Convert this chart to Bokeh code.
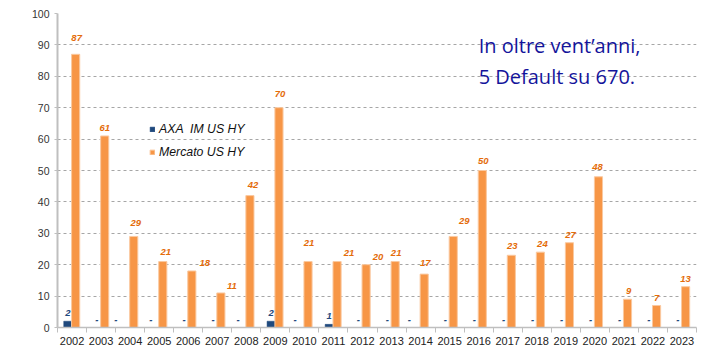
from bokeh.plotting import figure
from bokeh.models import ColumnDataSource, FixedTicker, Legend, LegendItem, Label, Range1d
from bokeh.core.properties import value
from bokeh.embed import file_html
from bokeh.resources import INLINE

# ---- data ----
years = list(range(2002, 2024))
axa_defaults = [2, 0, 0, 0, 0, 0, 0, 2, 0, 1, 0, 0, 0, 0, 0, 0, 0, 0, 0, 0, 0, 0]
market_defaults = [87, 61, 29, 21, 18, 11, 42, 70, 21, 21, 20, 21, 17, 29, 50, 23, 24, 27, 48, 9, 7, 13]
series_names = ["AXA  IM US HY", "Mercato US HY"]
note_lines = ["In oltre vent\u2019anni,", "5 Default su 670."]

# hand-placed label nudges of the original (pixels)
market_label_dx = [1, 0, 2, 3, 13, 11, 3, 1, 1, 12, 12, 1, 1, 11, 1, 1, 2, 1, -1, 1, 0, 0]
market_label_dy = [16, 8, 13, 10, 8, 7, 11, 14, 19, 9, 8, 9, 11, 15, 10, 9, 8, 8, 10, 8, 8, 8]
axa_label_dx = [0, 0, -10, -4, 0, 0, -4, 0, -5, 0, 0, 0, -7, 0, 0, 0, 0, 0, 0, 0, 0, 0]

NAVY = "#1F497D"
ORANGE = "#F79646"
ORANGE_TXT = "#E46C0A"
AXIS = "#BFBFBF"

BW = 0.28
AXA_OFF = -0.145
MKT_OFF = 0.125

src = ColumnDataSource(dict(
    x_axa=[y + AXA_OFF for y in years],
    x_mkt=[y + MKT_OFF for y in years],
    axa=axa_defaults,
    mkt=market_defaults,
    axa_lbl=[str(v) if v > 0 else "-" for v in axa_defaults],
    mkt_lbl=[str(v) for v in market_defaults],
    axa_dx=axa_label_dx,
    axa_dy=[-8] * len(years),
    mkt_dx=market_label_dx,
    mkt_dy=[-d for d in market_label_dy],
))

p = figure(width=710, height=347, output_backend="svg", toolbar_location=None,
           x_range=Range1d(years[0] - 0.5, years[-1] + 0.5), y_range=Range1d(0, 100),
           min_border_left=57, min_border_right=14, min_border_top=13, min_border_bottom=19)
p.outline_line_color = None
p.background_fill_color = "white"

r_axa = p.vbar(x="x_axa", top="axa", width=BW, bottom=0, source=src,
               fill_color=NAVY, line_color=NAVY, line_width=0.5)
r_mkt = p.vbar(x="x_mkt", top="mkt", width=BW, bottom=0, source=src,
               fill_color=ORANGE, line_color="#FAC9A0", line_width=1)

p.text(x="x_axa", y="axa", text="axa_lbl", source=src, x_offset="axa_dx", y_offset="axa_dy",
       text_font=value("Liberation Sans"), text_font_style="bold italic", text_font_size="9.5px",
       text_color=NAVY, text_align="center", text_baseline="middle")
p.text(x="x_mkt", y="mkt", text="mkt_lbl", source=src, x_offset="mkt_dx", y_offset="mkt_dy",
       text_font=value("Liberation Sans"), text_font_style="bold italic", text_font_size="9.5px",
       text_color=ORANGE_TXT, text_align="center", text_baseline="middle")

# axes
xa = p.xaxis[0]
xa.ticker = FixedTicker(ticks=years, minor_ticks=[y - 0.5 for y in years] + [years[-1] + 0.5])
xa.major_label_overrides = {y: str(y) for y in years}
xa.major_tick_out = 0
xa.major_tick_in = 0
xa.minor_tick_out = 5
xa.minor_tick_in = 0
xa.minor_tick_line_color = AXIS
xa.axis_line_color = AXIS
xa.axis_line_width = 1.5
xa.major_label_standoff = 4
xa.major_label_text_font = "Liberation Sans"
xa.major_label_text_font_size = "11px"
xa.major_label_text_color = "#222222"

ya = p.yaxis[0]
ya.ticker = FixedTicker(ticks=list(range(0, 101, 10)), minor_ticks=[])
ya.major_tick_out = 3
ya.major_tick_in = 0
ya.major_tick_line_color = AXIS
ya.axis_line_color = AXIS
ya.axis_line_width = 2
ya.major_label_standoff = 5
ya.major_label_text_font = "Liberation Sans"
ya.major_label_text_font_size = "10.5px"
ya.major_label_text_color = "#333333"

p.xgrid.grid_line_color = None
p.ygrid.grid_line_color = "#A6A6A6"
p.ygrid.grid_line_dash = "3 3"
p.ygrid.grid_line_width = 1

legend = Legend(items=[LegendItem(label=series_names[0], renderers=[r_axa]),
                       LegendItem(label=series_names[1], renderers=[r_mkt])],
                location=(92, 165), padding=0, margin=0, spacing=3,
                glyph_width=6, glyph_height=6, label_standoff=4, label_height=20,
                border_line_color=None, background_fill_alpha=0,
                label_text_font="Liberation Sans", label_text_font_style="italic",
                label_text_font_size="12.3px", label_text_color="#111111")
p.add_layout(legend)

p.add_layout(Label(x=2016.0, y=89.8, text=note_lines[0], text_font="Open Sans",
                   text_font_size="20px", text_color="#14149B", text_baseline="middle"))
p.add_layout(Label(x=2016.0, y=80.0, text=note_lines[1], text_font="Open Sans",
                   text_font_size="20px", text_color="#14149B", text_baseline="middle"))

open("out.html", "w").write(file_html(p, INLINE))
